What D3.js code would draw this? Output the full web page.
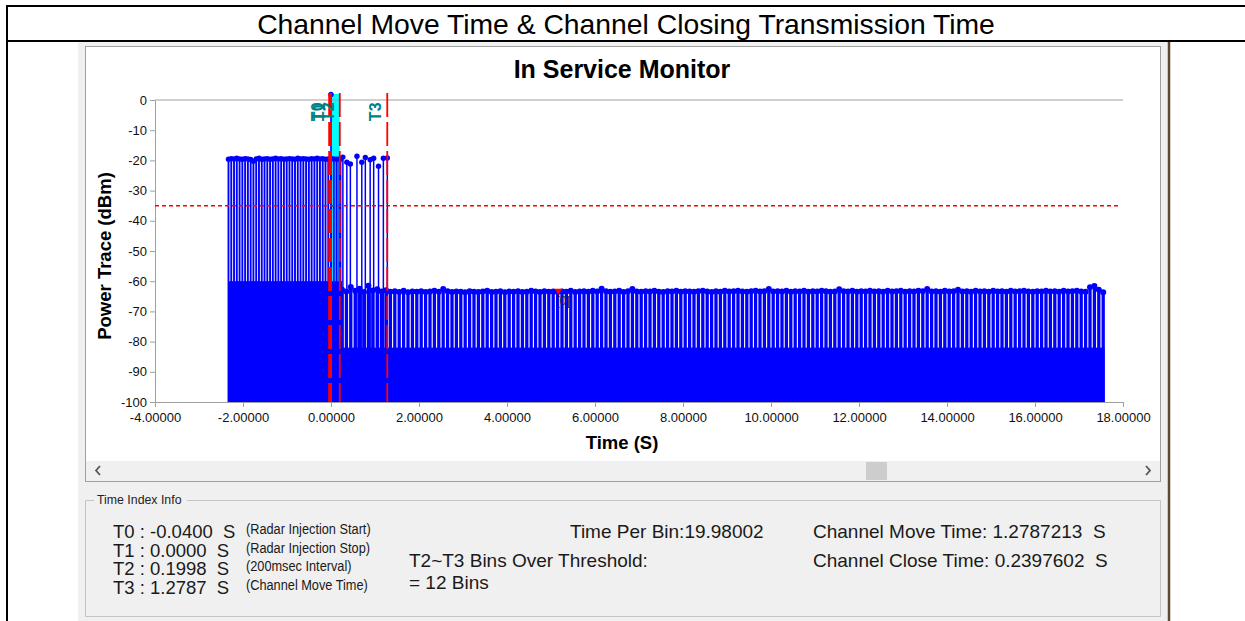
<!DOCTYPE html>
<html>
<head>
<meta charset="utf-8">
<script src="https://cdn.jsdelivr.net/npm/d3@7"></script>
<style>
  body { margin: 0; background: #fff; }
  text { font-family: "Liberation Sans", Arial, sans-serif; }
</style>
</head>
<body>
<div id="main"></div>
<script>
// burst before / during radar injection, one stem per 0.063 s from -2.33 s
const burstStart = -2.33, burstStep = 0.063;
const burstValues = [
    -19.6, -19.4, -19.5, -19.3, -19.5, -19.6, -19.4, -19.5, -19.7, -20.3,
    -19.5, -19.3, -19.6, -19.5, -19.4, -19.6, -19.5, -19.3, -19.5, -19.4,
    -19.6, -19.5, -19.4, -19.5, -19.6, -19.3, -19.5, -19.4, -19.5, -19.6,
    -19.4, -19.5, -19.3, -19.5, -19.4, -19.6, -19.5, -19.4, -19.5, -19.6, -19.5
];

// transmissions after the radar stop, up to T3
const moveTimes  = [0.22, 0.27, 0.36, 0.44, 0.59, 0.70, 0.78, 0.89, 0.97, 1.08, 1.19, 1.28];
const moveValues = [-19.5, -18.9, -20.6, -21.2, -18.6, -20.6, -19.0, -19.8, -19.3, -21.9, -19.3, -19.2];

// radar pulse itself
const pulseTimes  = [0.0];
const pulseValues = [1.8];

// noise floor after the channel moved, one stem per 0.1 s from 0.25 s
const noiseStart = 0.25, noiseStep = 0.1;
const noiseValues = [
    -62.8, -63.4, -61.9, -63.2, -62.5, -63.6, -61.5, -63.1, -62.7, -63.4,
    -63.0, -63.5, -63.3, -63.6, -63.2, -63.7, -63.4, -63.5, -63.3, -63.6,
    -63.4, -63.2, -63.5, -62.6, -63.3, -63.6, -63.4, -63.5, -63.7, -63.3,
    -63.5, -63.6, -63.4, -63.2, -63.6, -63.5, -63.3, -63.7, -63.4, -63.5,
    -63.3, -63.6, -63.5, -63.2, -63.4, -63.6, -63.3, -63.5, -63.4, -63.6,
    -63.4, -63.5, -63.2, -63.6, -63.4, -63.3, -63.5, -63.2, -63.4, -62.5,
    -63.3, -63.5, -63.4, -63.2, -63.6, -63.3, -62.6, -63.4, -63.5, -63.3,
    -63.4, -63.2, -63.5, -63.6, -63.3, -63.4, -63.2, -63.5, -63.3, -63.4,
    -63.5, -63.3, -63.2, -63.4, -63.6, -63.3, -63.5, -63.2, -63.4, -63.3,
    -63.2, -63.4, -63.5, -63.3, -63.2, -63.4, -63.3, -62.6, -63.4, -63.3,
    -63.4, -63.2, -63.5, -63.3, -63.4, -63.2, -63.5, -63.3, -63.4, -63.2,
    -63.3, -63.5, -63.4, -62.7, -63.3, -63.4, -63.2, -63.5, -63.3, -63.4,
    -63.2, -63.4, -63.3, -63.5, -63.2, -63.4, -63.3, -63.2, -63.5, -63.3,
    -63.4, -63.2, -63.3, -62.6, -63.4, -63.3, -63.5, -63.2, -63.4, -63.3,
    -62.8, -63.4, -63.3, -63.5, -63.2, -63.4, -63.3, -63.5, -63.2, -63.4,
    -63.3, -63.5, -63.2, -63.4, -63.3, -63.2, -63.4, -63.5, -63.3, -63.4,
    -63.2, -63.4, -63.3, -63.5, -63.2, -63.4, -63.3, -63.2, -63.4, -63.5,
    -62.0, -61.6, -62.8, -63.7
];

// dense low stems that render as a solid block
const bandFrom = [-2.33, 0.25];
const bandTo   = [0.25, 17.58];
const bandTop  = [-60, -82];

const markerNames = ['T0', 'T1', 'T2', 'T3'];
const markerTimes = [-0.04, 0.0, 0.1998, 1.2787];
const threshold = -35;

const xTicks = [-4, -2, 0, 2, 4, 6, 8, 10, 12, 14, 16, 18];
const yTicks = [0, -10, -20, -30, -40, -50, -60, -70, -80, -90, -100];

const pointLabels = ['[0]'];
const pointTimes  = [5.17];
const pointValues = [-63.5];

const infoLeft = [
    { main: 'T0 : -0.0400  S', note: '(Radar Injection Start)' },
    { main: 'T1 : 0.0000  S',  note: '(Radar Injection Stop)' },
    { main: 'T2 : 0.1998  S',  note: '(200msec Interval)' },
    { main: 'T3 : 1.2787  S',  note: '(Channel Move Time)' }
];

const width = 1245, height = 621;
const margin = { top: 100, bottom: 219, left: 155, right: 122 };

const svg = d3.select('#main').append('svg').attr('width', width).attr('height', height);

const xScale = d3.scaleLinear().domain([-4, 18]).range([margin.left, width - margin.right]);
const yScale = d3.scaleLinear().domain([-100, 0]).range([height - margin.bottom, margin.top]);

// --- page frame and screenshot window ---
svg.append('rect').attr('x', 78).attr('y', 42).attr('width', 1090).attr('height', 579).attr('fill', '#f0f0f0');
svg.append('line').attr('x1', 1169).attr('x2', 1169).attr('y1', 42).attr('y2', 621)
    .attr('stroke', '#5b4a2e').attr('stroke-width', 2.5);

svg.append('rect').attr('x', 85.5).attr('y', 46.5).attr('width', 1075).attr('height', 435)
    .attr('fill', '#fff').attr('stroke', '#a0a0a0');
svg.append('rect').attr('x', 86).attr('y', 461).attr('width', 1074).attr('height', 20).attr('fill', '#f0f0f0');
svg.append('rect').attr('x', 866).attr('y', 462).attr('width', 21).attr('height', 18).attr('fill', '#cdcdcd');
svg.append('path').attr('d', 'M100,466L96,470.5L100,475').attr('fill', 'none')
    .attr('stroke', '#555').attr('stroke-width', 1.8);
svg.append('path').attr('d', 'M1146,466L1150,470.5L1146,475').attr('fill', 'none')
    .attr('stroke', '#555').attr('stroke-width', 1.8);

svg.append('line').attr('x1', 6).attr('x2', width).attr('y1', 6).attr('y2', 6).attr('stroke', '#000').attr('stroke-width', 2);
svg.append('line').attr('x1', 7).attr('x2', 7).attr('y1', 5).attr('y2', height).attr('stroke', '#000').attr('stroke-width', 2);
svg.append('line').attr('x1', 6).attr('x2', width).attr('y1', 41).attr('y2', 41).attr('stroke', '#000').attr('stroke-width', 2);

svg.append('text')
    .attr('x', 626).attr('y', 34)
    .style('font-size', '28.3px')
    .style('text-anchor', 'middle')
    .text('Channel Move Time & Channel Closing Transmission Time');

// --- plot ---
function drawPlot() {
    svg.append('text')
        .attr('x', 622).attr('y', 78)
        .style('font-size', '25px').style('font-weight', 'bold')
        .style('text-anchor', 'middle')
        .text('In Service Monitor');

    // T1~T2 shading
    svg.append('rect')
        .attr('x', xScale(markerTimes[1]))
        .attr('y', yScale(2))
        .attr('width', xScale(markerTimes[2]) - xScale(markerTimes[1]))
        .attr('height', yScale(-100) - yScale(2))
        .attr('fill', '#00ffff');

    // solid low block
    svg.append('g').selectAll('rect')
        .data(bandFrom.map((d, i) => ({ from: d, to: bandTo[i], top: bandTop[i] })))
        .enter()
        .append('rect')
            .attr('x', d => xScale(d.from))
            .attr('y', d => yScale(d.top))
            .attr('width', d => xScale(d.to) - xScale(d.from))
            .attr('height', d => yScale(-100) - yScale(d.top))
            .attr('fill', '#0000ff');

    const burst = burstValues.map((v, i) => ({ t: burstStart + i * burstStep, v: v, w: 1.9, r: 2.7 }));
    const moves = moveTimes.map((t, i) => ({ t: t, v: moveValues[i], w: 1.5, r: 2.7 }));
    const pulse = pulseTimes.map((t, i) => ({ t: t, v: pulseValues[i], w: 1.6, r: 2.7 }));
    const noise = noiseValues.map((v, i) => ({ t: noiseStart + i * noiseStep, v: v, w: 3.3, r: 3 }));
    const stems = noise.concat(burst, moves, pulse);

    const stemGroup = svg.append('g');
    stemGroup.selectAll('line')
        .data(stems)
        .enter()
        .append('line')
            .attr('x1', d => xScale(d.t))
            .attr('x2', d => xScale(d.t))
            .attr('y1', yScale(-100))
            .attr('y2', d => yScale(d.v))
            .attr('stroke', '#0000ff')
            .attr('stroke-width', d => d.w);

    stemGroup.selectAll('circle')
        .data(stems)
        .enter()
        .append('circle')
            .attr('cx', d => xScale(d.t))
            .attr('cy', d => yScale(d.v))
            .attr('r', d => d.r)
            .style('fill', '#0000ff');

    // axes
    const xAxis = svg.append('g')
        .attr('transform', `translate(0,${yScale(-100)})`)
        .call(d3.axisBottom(xScale).tickValues(xTicks).tickFormat(d => d.toFixed(5)).tickSize(5).tickSizeOuter(0));
    const yAxis = svg.append('g')
        .attr('transform', `translate(${xScale(-4)},0)`)
        .call(d3.axisLeft(yScale).tickValues(yTicks).tickFormat(d => String(d)).tickSize(5).tickSizeOuter(0));

    [xAxis, yAxis].forEach(g => {
        g.select('.domain').attr('stroke', '#a0a0a0');
        g.selectAll('.tick line').attr('stroke', '#a0a0a0');
        g.selectAll('.tick text').style('font-size', '13px').style('fill', '#111')
            .style('font-family', '"Liberation Sans", Arial, sans-serif');
    });
    xAxis.selectAll('.tick text').attr('dy', '0.95em');
    yAxis.selectAll('.tick text').attr('x', -8);

    // top grid line at 0 dBm
    svg.append('line')
        .attr('x1', xScale(-4)).attr('x2', xScale(18))
        .attr('y1', yScale(0)).attr('y2', yScale(0))
        .attr('stroke', '#a0a0a0');

    // threshold
    svg.append('line')
        .attr('x1', xScale(-4)).attr('x2', xScale(17.9))
        .attr('y1', yScale(threshold)).attr('y2', yScale(threshold))
        .attr('stroke', '#ff0000').attr('stroke-width', 1.6)
        .attr('stroke-dasharray', '4,3');

    // time markers
    svg.append('g').selectAll('line')
        .data(markerTimes)
        .enter()
        .append('line')
            .attr('x1', d => xScale(d)).attr('x2', d => xScale(d))
            .attr('y1', yScale(2.3)).attr('y2', yScale(-100))
            .attr('stroke', '#ff0000')
            .attr('stroke-width', (d, i) => i < 2 ? 2 : 1.8)
            .attr('stroke-dasharray', '24,5');

    svg.append('g').selectAll('text')
        .data(markerTimes)
        .enter()
        .append('text')
            .attr('transform', d => `translate(${xScale(d) - 6},${yScale(-7)}) rotate(-90)`)
            .style('font-size', '16px').style('font-weight', 'bold')
            .style('fill', '#008080')
            .text((d, i) => markerNames[i]);

    // point marker
    const pts = pointTimes.map((t, i) => ({ t: t, v: pointValues[i], label: pointLabels[i] }));
    svg.append('g').selectAll('path')
        .data(pts)
        .enter()
        .append('path')
            .attr('d', d => `M${xScale(d.t) - 4},${yScale(d.v) - 3}L${xScale(d.t) + 4},${yScale(d.v) - 3}L${xScale(d.t)},${yScale(d.v) + 3}Z`)
            .attr('fill', '#ff0000');
    svg.append('g').selectAll('text')
        .data(pts)
        .enter()
        .append('text')
            .attr('x', d => xScale(d.t) - 2)
            .attr('y', d => yScale(d.v) + 13)
            .style('font-size', '12px').style('fill', '#1a1a3a')
            .text(d => d.label);

    // axis titles
    svg.append('text')
        .attr('x', 622).attr('y', 449)
        .style('font-size', '18.5px').style('font-weight', 'bold')
        .style('text-anchor', 'middle')
        .text('Time (S)');
    svg.append('text')
        .attr('transform', `translate(111,${(yScale(0) + yScale(-100)) / 2 + 5}) rotate(-90)`)
        .style('font-size', '18.5px').style('font-weight', 'bold')
        .style('text-anchor', 'middle')
        .text('Power Trace (dBm)');
}

drawPlot();

// --- Time Index Info group box ---
function drawInfo() {
    const box = svg.append('g');
    box.append('path')
        .attr('d', 'M94,500.5H85.5V616.5H1160.5V500.5H187')
        .attr('fill', 'none').attr('stroke', '#c4c4c4');
    box.append('text')
        .attr('transform', 'translate(97,504) scale(0.95,1)')
        .style('font-size', '13px').style('fill', '#222')
        .text('Time Index Info');

    box.selectAll('.main')
        .data(infoLeft)
        .enter()
        .append('text')
            .attr('class', 'main')
            .attr('x', 113)
            .attr('y', (d, i) => 538 + i * 18.7)
            .style('font-size', '18.5px').style('fill', '#1a1a1a')
            .style('white-space', 'pre')
            .text(d => d.main);
    box.selectAll('.note')
        .data(infoLeft)
        .enter()
        .append('text')
            .attr('class', 'note')
            .attr('transform', (d, i) => `translate(246,${534 + i * 18.7}) scale(0.88,1)`)
            .style('font-size', '14.5px').style('fill', '#1a1a1a')
            .text(d => d.note);

    const lines = [
        { x: 570, y: 538, t: 'Time Per Bin:19.98002' },
        { x: 409, y: 567, t: 'T2~T3 Bins Over Threshold:' },
        { x: 409, y: 589, t: '= 12 Bins' },
        { x: 813, y: 538, t: 'Channel Move Time: 1.2787213  S' },
        { x: 813, y: 567, t: 'Channel Close Time: 0.2397602  S' }
    ];
    box.selectAll('.line')
        .data(lines)
        .enter()
        .append('text')
            .attr('class', 'line')
            .attr('x', d => d.x).attr('y', d => d.y)
            .style('font-size', '19px').style('fill', '#1a1a1a')
            .style('white-space', 'pre')
            .text(d => d.t);
}

drawInfo();
</script>
</body>
</html>
